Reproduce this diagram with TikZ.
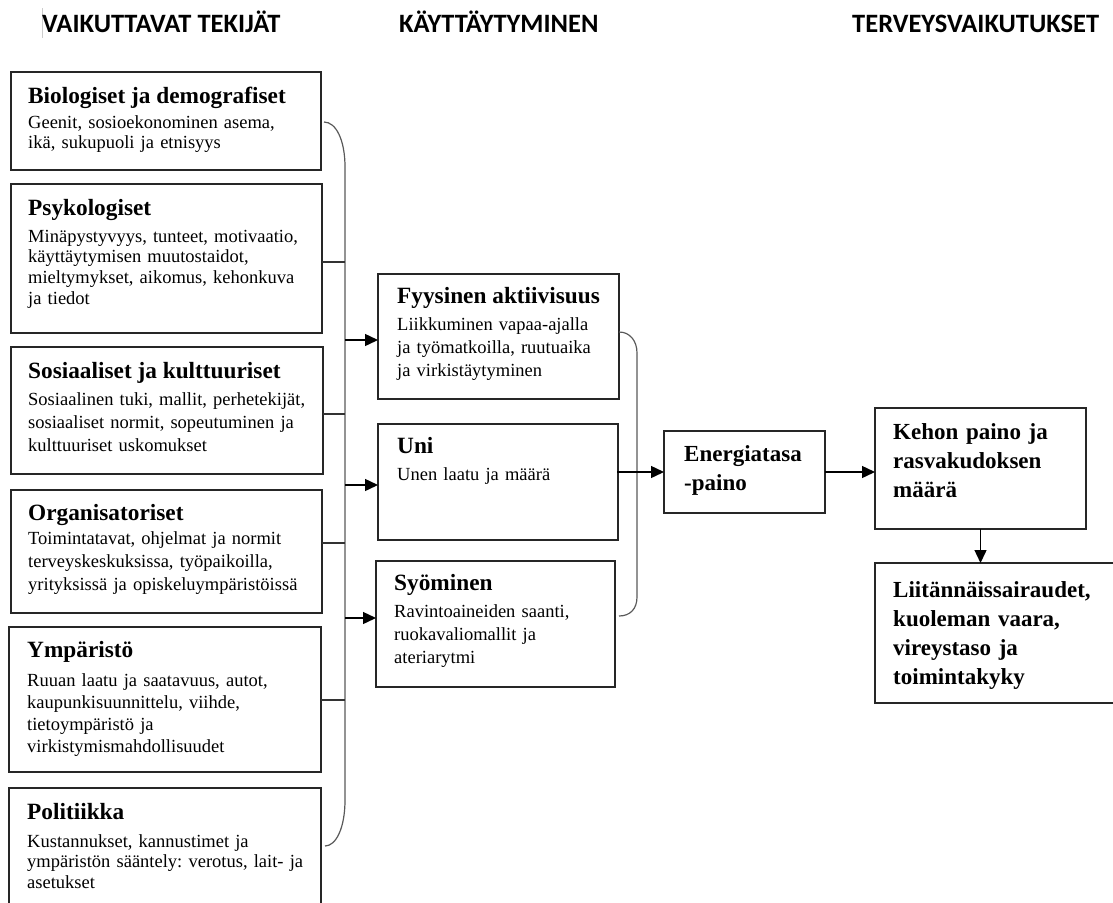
\documentclass[tikz,border=0pt]{standalone}
\usepackage{fontspec}
\setmainfont{Liberation Serif}
\newfontfamily\hdrfont{Carlito}
\usetikzlibrary{arrows.meta}
\frenchspacing
\begin{document}
\frenchspacing
\begin{tikzpicture}[x=1pt,y=-1pt,
  box/.style={draw=black!85, line width=1.1pt, rectangle, anchor=north west, inner sep=0pt, outer sep=0pt},
  hdr/.style={anchor=base west, inner sep=0pt, font=\hdrfont\bfseries\fontsize{26.5}{30}\selectfont},
  ttl/.style={anchor=base west, inner sep=0pt, font=\bfseries\fontsize{23.3}{28}\selectfont},
  bodytxt/.style={anchor=base west, inner sep=0pt, text width=300pt, align=left, font=\frenchspacing\fontsize{18.5}{#1}\selectfont},
  bigtxt/.style={anchor=base west, inner sep=0pt, text width=230pt, align=left, font=\bfseries\fontsize{23}{29}\selectfont},
  brc/.style={draw=black!65, line width=1.2pt},
  tick/.style={draw=black!80, line width=1.1pt},
  arr/.style={draw=black, line width=1.4pt, -{Triangle[length=13pt,width=12pt]}}
]
\useasboundingbox (0,0) rectangle (1113,902);

% headers
\draw[black!20, line width=0.8pt] (42,8) -- (42,38);
\node[hdr] (h1) at (42,32) {VAIKUTTAVAT TEKIJÄT};
\node[hdr] (h2) at (399,32) {KÄYTTÄYTYMINEN};
\node[hdr] (h3) at (852,32) {TERVEYSVAIKUTUKSET};

% left boxes
\node[box, minimum width=310pt, minimum height=98pt] (b1) at (11,72) {};
\node[box, minimum width=311pt, minimum height=149pt] (b2) at (11,184) {};
\node[box, minimum width=312pt, minimum height=127pt] (b3) at (11,347) {};
\node[box, minimum width=311pt, minimum height=123pt] (b4) at (11,490) {};
\node[box, minimum width=312pt, minimum height=145pt] (b5) at (9,627) {};
\node[box, minimum width=312pt, minimum height=140pt] (b6) at (9,788) {};

\node[ttl] (t1) at (28,103) {Biologiset ja demografiset};
\node[bodytxt=20.7pt] (d1) at (28,128) {Geenit, sosioekonominen asema,\\ikä, sukupuoli ja etnisyys};
\node[ttl] (t2) at (28,215) {Psykologiset};
\node[bodytxt=20.7pt] (d2) at (28,242) {Minäpystyvyys, tunteet, motivaatio,\\käyttäytymisen muutostaidot,\\mieltymykset, aikomus, kehonkuva\\ja tiedot};
\node[ttl] (t3) at (28,378) {Sosiaaliset ja kulttuuriset};
\node[bodytxt=23pt] (d3) at (28,405) {Sosiaalinen tuki, mallit, perhetekijät,\\sosiaaliset normit, sopeutuminen ja\\kulttuuriset uskomukset};
\node[ttl] (t4) at (28,520) {Organisatoriset};
\node[bodytxt=23.3pt] (d4) at (28,544) {Toimintatavat, ohjelmat ja normit\\terveyskeskuksissa, työpaikoilla,\\yrityksissä ja opiskeluympäristöissä};
\node[ttl] (t5) at (27,657) {Ympäristö};
\node[bodytxt=22pt] (d5) at (27,686) {Ruuan laatu ja saatavuus, autot,\\kaupunkisuunnittelu, viihde,\\tietoympäristö ja\\virkistymismahdollisuudet};
\node[ttl] (t6) at (27,819) {Politiikka};
\node[bodytxt=20.7pt] (d6) at (27,847) {Kustannukset, kannustimet ja\\ympäristön sääntely: verotus, lait- ja\\asetukset};

% left brace
\coordinate (lbT) at (324,122);
\coordinate (lbB) at (325,846);
\draw[brc] (lbT) .. controls (336,122) and (345,140) .. (345,167) -- (345,800) .. controls (345,828) and (336,846) .. (lbB);
\coordinate (s2) at (345,262);
\coordinate (s3) at (345,414);
\coordinate (s4) at (345,543);
\coordinate (s5) at (345,700);
\draw[tick] (s2 -| b2.east) -- (s2);
\draw[tick] (s3 -| b3.east) -- (s3);
\draw[tick] (s4 -| b4.east) -- (s4);
\draw[tick] (s5 -| b5.east) -- (s5);

% middle boxes
\node[box, minimum width=241pt, minimum height=125pt] (m1) at (378,274) {};
\node[box, minimum width=240pt, minimum height=116pt] (m2) at (378,424) {};
\node[box, minimum width=239pt, minimum height=126pt] (m3) at (376,561) {};
\node[ttl] (mt1) at (397,303) {Fyysinen aktiivisuus};
\node[bodytxt=23.3pt] (md1) at (397,330) {Liikkuminen vapaa-ajalla\\ja työmatkoilla, ruutuaika\\ja virkistäytyminen};
\node[ttl] (mt2) at (397,453) {Uni};
\node[bodytxt=23.3pt] (md2) at (397,480) {Unen laatu ja määrä};
\node[ttl] (mt3) at (394,590) {Syöminen};
\node[bodytxt=23.3pt] (md3) at (394,617) {Ravintoaineiden saanti,\\ruokavaliomallit ja\\ateriarytmi};

\coordinate (a1) at (345,340);
\coordinate (a2) at (345,485);
\coordinate (a3) at (345,618);
\draw[arr] (a1) -- (a1 -| m1.west);
\draw[arr] (a2) -- (a2 -| m2.west);
\draw[arr] (a3) -- (a3 -| m3.west);

% right brace
\coordinate (rbT) at (619,332);
\coordinate (rbB) at (619,616);
\draw[brc] (rbT) .. controls (630,332) and (637,341) .. (637,353) -- (637,597) .. controls (637,609) and (630,616) .. (rbB);

% right boxes
\node[box, minimum width=161pt, minimum height=82pt] (e) at (664,431) {};
\node[box, minimum width=211pt, minimum height=121pt] (k) at (875,408) {};
\node[box, minimum width=260pt, minimum height=140pt] (l) at (875,563) {};
\node[bigtxt] (et) at (684,461) {Energiatasa\\-paino};
\node[bigtxt] (kt) at (893,439) {Kehon paino ja\\rasvakudoksen\\määrä};
\node[bigtxt] (lt) at (893,597) {Liitännäissairaudet,\\kuoleman vaara,\\vireystaso ja\\toimintakyky};

\coordinate (uE) at (617,472);
\draw[arr] (uE) -- (uE -| e.west);
\draw[arr] (e.east) -- (e.east -| k.west);
\draw[arr] (k.south) -- (k.south |- l.north);
\end{tikzpicture}
\end{document}
